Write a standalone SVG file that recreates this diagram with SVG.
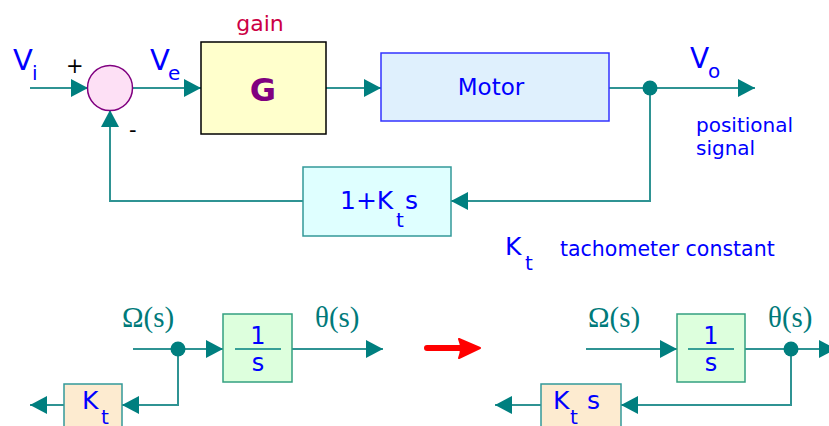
<svg xmlns="http://www.w3.org/2000/svg" width="829" height="426" viewBox="0 0 829 426">
<style>
.ln{fill:none;stroke:#2f9393;stroke-width:2}
.arr{marker-end:url(#ah)}
.dot{fill:#007f7f}
.sans{font-family:"DejaVu Sans","Verdana",sans-serif}
.serif{font-family:"Liberation Serif","Times New Roman",serif;fill:#007a7a;font-size:29px}
.blue{fill:#0000ff}
.int{fill:#ddffdd;stroke:#33a080;stroke-width:1.5}
.kt{fill:#fdebd0;stroke:#339999;stroke-width:1.5}
</style>
<defs>
<marker id="ah" markerUnits="userSpaceOnUse" markerWidth="17" markerHeight="18" refX="17" refY="9" orient="auto">
<path d="M0,0 L17,9 L0,18 z" fill="#007f7f"/>
</marker>
</defs>

<g id="connectors">
<path class="ln arr" d="M30,88 H88"/>
<path class="ln arr" d="M132.5,88 H201"/>
<path class="ln arr" d="M326,88 H381"/>
<path class="ln arr" d="M606,88 H755"/>
<path class="ln arr" d="M650,88 V201 H451"/>
<path class="ln arr" d="M303,201 H110 V110"/>
<circle class="dot" cx="650" cy="88" r="7.5"/>

<path class="ln arr" d="M133,349 H223"/>
<path class="ln arr" d="M292,349 H383"/>
<path class="ln arr" d="M178,349 V405 H122"/>
<path class="ln arr" d="M64,405 H30"/>
<circle class="dot" cx="178" cy="349" r="7.5"/>

<path class="ln arr" d="M586,349 H677"/>
<path class="ln arr" d="M745,349 H836"/>
<path class="ln arr" d="M791,349 V405 H621"/>
<path class="ln arr" d="M541,405 H495"/>
<circle class="dot" cx="791" cy="349" r="7.5"/>
</g>

<g id="sum">
<circle cx="110" cy="88" r="22.5" fill="#fde0f5" stroke="#800080" stroke-width="1.5"/>
<text class="sans" x="66" y="73" font-size="21" fill="#000">+</text>
<text class="sans" x="129" y="137" font-size="21" fill="#000">-</text>
</g>

<g id="labels-top" class="sans blue">
<text x="13" y="70" font-size="29">V</text>
<text x="32" y="80" font-size="20">i</text>
<text x="150" y="70" font-size="29">V</text>
<text x="168" y="80" font-size="20">e</text>
<text x="690" y="68" font-size="28">V</text>
<text x="708" y="78" font-size="20">o</text>
<text x="696" y="132" font-size="20">positional</text>
<text x="696" y="155" font-size="20">signal</text>
</g>

<g id="gain">
<rect x="201" y="42" width="125" height="92" fill="#ffffcc" stroke="#000" stroke-width="1.5"/>
<text class="sans" x="263" y="101" font-size="32" font-weight="bold" fill="#800080" text-anchor="middle">G</text>
<text class="sans" x="260" y="31" font-size="22" fill="#cc0044" text-anchor="middle">gain</text>
</g>

<g id="motor">
<rect x="381" y="53" width="228" height="68" fill="#dff0fd" stroke="#3333ff" stroke-width="1.5"/>
<text class="sans blue" x="491" y="95" font-size="23" text-anchor="middle">Motor</text>
</g>

<g id="feedback">
<rect x="303" y="167" width="148" height="69" fill="#dfffff" stroke="#339999" stroke-width="1.5"/>
<text class="sans blue" x="340" y="209" font-size="25">1+K</text>
<text class="sans blue" x="396" y="227" font-size="20">t</text>
<text class="sans blue" x="405" y="209" font-size="25">s</text>
</g>

<g id="kt-note" class="sans blue">
<text x="505" y="255" font-size="25">K</text>
<text x="525" y="270" font-size="20">t</text>
<text x="560" y="256" font-size="20.5">tachometer constant</text>
</g>

<g id="left-diagram">
<text class="serif" x="122" y="327">Ω(s)</text>
<text class="serif" x="315" y="327">θ(s)</text>
<g id="int-left">
<rect class="int" x="223" y="314" width="69" height="68"/>
<line x1="235" y1="349" x2="281" y2="349" stroke="#007f7f" stroke-width="1.5"/>
<text class="sans blue" x="258" y="344" font-size="24" text-anchor="middle">1</text>
<text class="sans blue" x="258" y="371" font-size="24" text-anchor="middle">s</text>
</g>
<g id="kt-left">
<rect class="kt" x="64" y="384" width="58" height="50"/>
<text class="sans blue" x="82" y="409" font-size="25">K</text>
<text class="sans blue" x="101" y="424" font-size="20">t</text>
</g>
</g>

<g id="transform-arrow">
<path d="M427,348 H466" stroke="#ff0000" stroke-width="6" stroke-linecap="round" fill="none"/>
<path d="M459,339 L480,348 L459,358 Q463,348 459,339 z" fill="#ff0000" stroke="#ff0000" stroke-width="2" stroke-linejoin="round"/>
</g>

<g id="right-diagram">
<text class="serif" x="588" y="327">Ω(s)</text>
<text class="serif" x="768" y="327">θ(s)</text>
<g id="int-right">
<rect class="int" x="677" y="314" width="68" height="68"/>
<line x1="688" y1="349" x2="734" y2="349" stroke="#007f7f" stroke-width="1.5"/>
<text class="sans blue" x="711" y="344" font-size="24" text-anchor="middle">1</text>
<text class="sans blue" x="711" y="371" font-size="24" text-anchor="middle">s</text>
</g>
<g id="kt-right">
<rect class="kt" x="541" y="384" width="80" height="50"/>
<text class="sans blue" x="553" y="409" font-size="25">K</text>
<text class="sans blue" x="570" y="424" font-size="20">t</text>
<text class="sans blue" x="587" y="409" font-size="25">s</text>
</g>
</g>
</svg>
